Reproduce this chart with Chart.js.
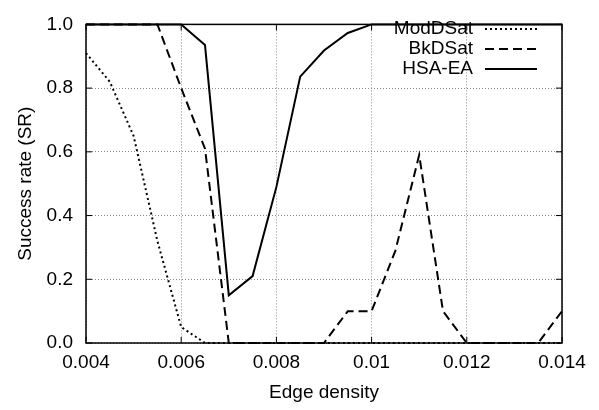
<!DOCTYPE html>
<html>
<head>
<meta charset="utf-8">
<script src="https://cdn.jsdelivr.net/npm/chart.js@4"></script>
<style>
  html, body { margin: 0; padding: 0; background: #fff; }
  #wrap { width: 599px; height: 410px; }
</style>
</head>
<body>
<div id="wrap"><canvas id="srChart" width="599" height="410"></canvas></div>
<script>
const edgeDensity = [0.004, 0.0045, 0.005, 0.0055, 0.006, 0.0065, 0.007, 0.0075, 0.008, 0.0085,
    0.009, 0.0095, 0.01, 0.0105, 0.011, 0.0115, 0.012, 0.0125, 0.013, 0.0135, 0.014];
const modDSat = [0.91, 0.82, 0.65, 0.32, 0.05, 0, 0, 0, 0, 0, 0, 0, 0, 0, 0, 0, 0, 0, 0, 0, 0];
const bkDSat = [1, 1, 1, 1, 0.8, 0.61, 0, 0, 0, 0, 0, 0.1, 0.1, 0.29, 0.59, 0.1, 0, 0, 0, 0, 0.1];
const hsaEA = [1, 1, 1, 1, 1, 0.935, 0.15, 0.21, 0.49, 0.836, 0.918, 0.973, 1, 1, 1, 1, 1, 1, 1, 1, 1];
const seriesNames = ['ModDSat', 'BkDSat', 'HSA-EA'];
const xTickLabels = ['0.004', '0.006', '0.008', '0.01', '0.012', '0.014'];
const yTickLabels = ['0.0', '0.2', '0.4', '0.6', '0.8', '1.0'];

const fontFamily = '"Liberation Sans", Arial, Helvetica, sans-serif';

function toPoints(vals) {
    return vals.map((v, i) => ({ x: edgeDensity[i], y: v }));
}

// box, inward tick marks and the gnuplot-style key
const framePlugin = {
    id: 'frame',
    afterDraw(chart) {
        const ctx = chart.ctx;
        const a = chart.chartArea;
        const xs = chart.scales.x, ys = chart.scales.y;
        ctx.save();
        ctx.strokeStyle = '#000';
        ctx.lineWidth = 1.5;
        ctx.setLineDash([]);
        ctx.strokeRect(a.left, a.top, a.right - a.left, a.bottom - a.top);
        ctx.lineWidth = 1;
        ctx.beginPath();
        xs.ticks.forEach(t => {
            const px = xs.getPixelForValue(t.value);
            ctx.moveTo(px, a.bottom); ctx.lineTo(px, a.bottom - 6);
            ctx.moveTo(px, a.top); ctx.lineTo(px, a.top + 6);
        });
        ys.ticks.forEach(t => {
            const py = ys.getPixelForValue(t.value);
            ctx.moveTo(a.left, py); ctx.lineTo(a.left + 6, py);
            ctx.moveTo(a.right, py); ctx.lineTo(a.right - 6, py);
        });
        ctx.stroke();

        // key
        ctx.font = '19px ' + fontFamily;
        ctx.fillStyle = '#000';
        ctx.textAlign = 'right';
        ctx.textBaseline = 'middle';
        chart.data.datasets.forEach((ds, i) => {
            const y = 29 + i * 20;
            ctx.fillText(ds.label, 473, y);
            ctx.beginPath();
            ctx.lineWidth = ds.borderWidth;
            ctx.setLineDash(ds.borderDash || []);
            ctx.moveTo(485, y);
            ctx.lineTo(537, y);
            ctx.stroke();
        });
        ctx.restore();
    }
};

new Chart(document.getElementById('srChart'), {
    type: 'line',
    data: {
        datasets: [
            {
                label: seriesNames[0],
                data: toPoints(modDSat),
                borderColor: '#000',
                borderWidth: 2,
                borderDash: [2, 3],
                pointRadius: 0,
                tension: 0,
                clip: false
            },
            {
                label: seriesNames[1],
                data: toPoints(bkDSat),
                borderColor: '#000',
                borderWidth: 2,
                borderDash: [9, 5],
                pointRadius: 0,
                tension: 0,
                clip: false
            },
            {
                label: seriesNames[2],
                data: toPoints(hsaEA),
                borderColor: '#000',
                borderWidth: 2,
                pointRadius: 0,
                tension: 0,
                clip: false
            }
        ]
    },
    options: {
        responsive: false,
        animation: false,
        layout: { padding: { top: 13, right: 37, left: 0, bottom: 0 } },
        plugins: {
            legend: { display: false },
            tooltip: { enabled: false }
        },
        scales: {
            x: {
                type: 'linear',
                min: 0.004,
                max: 0.014,
                afterFit: s => { s.height = 67; },
                afterBuildTicks: s => {
                    s.ticks = xTickLabels.map(l => ({ value: parseFloat(l) }));
                },
                ticks: {
                    padding: 8,
                    color: '#000',
                    font: { family: fontFamily, size: 19 },
                    maxRotation: 0,
                    callback: (v, i) => xTickLabels[i]
                },
                grid: { color: '#8a8a8a', lineWidth: 1, drawTicks: false },
                border: { display: false, dash: [1, 2] },
                title: {
                    display: true,
                    text: 'Edge density',
                    color: '#000',
                    font: { family: fontFamily, size: 19 },
                    padding: { top: 0, bottom: 6 }
                }
            },
            y: {
                min: 0,
                max: 1,
                afterFit: s => { s.width = 86; },
                afterBuildTicks: s => {
                    s.ticks = yTickLabels.map(l => ({ value: parseFloat(l) }));
                },
                ticks: {
                    padding: 13,
                    color: '#000',
                    font: { family: fontFamily, size: 19 },
                    callback: (v, i) => yTickLabels[i]
                },
                grid: { color: '#8a8a8a', lineWidth: 1, drawTicks: false },
                border: { display: false, dash: [1, 2] },
                title: {
                    display: true,
                    text: 'Success rate (SR)',
                    color: '#000',
                    font: { family: fontFamily, size: 19 },
                    padding: { top: 14, bottom: 0 }
                }
            }
        }
    },
    plugins: [framePlugin]
});
</script>
</body>
</html>
